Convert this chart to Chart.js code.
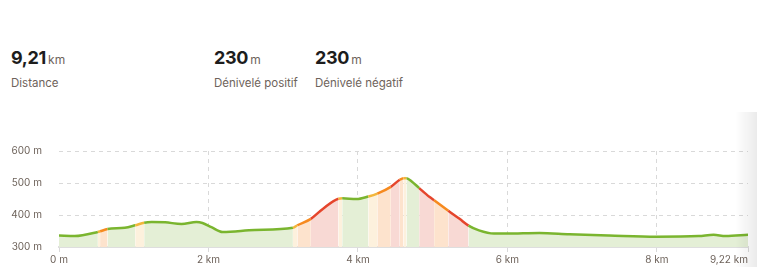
<!DOCTYPE html>
<html>
<head>
<meta charset="utf-8">
<script src="https://cdn.jsdelivr.net/npm/chart.js@4.4.1/dist/chart.umd.min.js"></script>
<style>
  html, body { margin: 0; padding: 0; background: #fff; width: 757px; height: 267px; overflow: hidden; font-family: "Inter", "Lato", sans-serif; }
  .stat { position: absolute; top: 47px; }
  .stat .num { font-size: 18px; font-weight: 700; color: #1d1d1d; letter-spacing: -0.3px; }
  .stat .unit { font-size: 12px; color: #6e635b; margin-left: 2px; }
  .stat .lbl { font-size: 11.5px; color: #6e635b; margin-top: 8px; }
  #wrap { position: absolute; left: 0; top: 128px; width: 757px; height: 142px; }
  #shadow { position: absolute; right: 0; top: 112px; width: 22px; height: 155px;
    background: linear-gradient(to right, rgba(0,0,0,0), rgba(0,0,0,0.08)); }
</style>
</head>
<body>
<div class="stat" style="left:11px"><span class="num">9,21</span><span class="unit">km</span><div class="lbl">Distance</div></div>
<div class="stat" style="left:214px"><span class="num">230</span><span class="unit">m</span><div class="lbl">Dénivelé positif</div></div>
<div class="stat" style="left:315px"><span class="num">230</span><span class="unit">m</span><div class="lbl">Dénivelé négatif</div></div>
<div id="wrap"><canvas id="mychart"></canvas></div>
<div id="shadow"></div>
<script>
// distance (km), elevation (m), slope class of the segment starting at each point
const distances = [0, 0.21, 0.52, 0.55, 0.65, 0.88, 1.02, 1.14, 1.24, 1.42, 1.64, 1.84, 1.92, 2.04, 2.19, 2.62,
  3.13, 3.19, 3.37, 3.53, 3.74, 3.79, 3.98, 4.14, 4.26, 4.44, 4.56, 4.61, 4.65, 4.72, 4.82, 4.96, 5.02, 5.21,
  5.36, 5.48, 5.62, 5.82, 5.99, 6.43, 6.83, 7.36, 7.99, 8.56, 8.76, 8.92, 9.22];
const elevations = [336, 334, 347, 349, 356, 360, 368, 376, 378, 377, 372, 378, 375, 362, 347, 353,
  360, 368, 388, 419, 451, 452, 450, 458, 467, 488, 510, 515, 515, 505, 484, 456, 446, 413,
  388, 367, 352, 342, 342, 344, 340, 336, 332, 334, 338, 334, 338];
const slopes = ['g','g','y','o','g','g','y','g','g','g','g','g','g','g','g','g',
  'y','o','r','r','y','g','g','y','o','r','o','y','g','g','r','r','o','r',
  'r','g','g','g','g','g','g','g','g','g','g','g','g'];

const xTicks = [0, 2, 4, 6, 8, 9.22];
const xTickLabels = ['0 m', '2 km', '4 km', '6 km', '8 km', '9,22 km'];
const yTicks = [300, 400, 500, 600];
const yTickLabels = ['300 m', '400 m', '500 m', '600 m'];

const lineColors = { g: '#7ab52f', y: '#f2b63c', o: '#f68a1f', r: '#e5452c' };
const fillColors = { g: '#e4efd6', y: '#fdf1dd', o: '#fde3cd', r: '#f8d9d4' };

const points = distances.map((d, i) => ({ x: d, y: elevations[i] }));
const textColor = '#6e635b';
const gridColor = '#d9d9d9';
const axisFont = { size: 10, family: 'Inter, Lato, sans-serif' };

// last x label is right-aligned on the axis end
const lastLabel = {
  id: 'lastLabel',
  afterDraw(chart) {
    const xs = chart.scales.x;
    const ctx = chart.ctx;
    ctx.save();
    ctx.font = '10px Inter, Lato, sans-serif';
    ctx.fillStyle = textColor;
    ctx.textAlign = 'right';
    ctx.textBaseline = 'middle';
    ctx.fillText(xTickLabels[xTickLabels.length - 1], xs.getPixelForValue(xTicks[xTicks.length - 1]), xs.top + 5 + 2 + 6);
    ctx.restore();
  }
};

var ctx = document.getElementById('mychart').getContext('2d');
var myChart = new Chart(ctx, {
  type: 'line',
  data: {
    datasets: [{
      data: points,
      fill: 'start',
      borderWidth: 2.5,
      pointRadius: 0,
      cubicInterpolationMode: 'monotone',
      borderColor: lineColors.g,
      backgroundColor: fillColors.g,
      segment: {
        borderColor: c => lineColors[slopes[c.p0DataIndex]],
        backgroundColor: c => fillColors[slopes[c.p0DataIndex]]
      }
    }]
  },
  options: {
    responsive: true,
    maintainAspectRatio: false,
    animation: false,
    layout: { padding: { left: 0, right: 9, top: 0, bottom: 0 } },
    plugins: { legend: { display: false }, tooltip: { enabled: false } },
    scales: {
      x: {
        type: 'linear',
        min: 0,
        max: 9.22,
        afterBuildTicks: s => { s.ticks = xTicks.map(v => ({ value: v })); },
        ticks: {
          autoSkip: false,
          maxRotation: 0,
          padding: 2,
          color: textColor,
          font: axisFont,
          callback: (v, i) => i === xTicks.length - 1 ? '' : xTickLabels[i]
        },
        grid: {
          color: c => (c.tick && (c.tick.value === 0 || c.tick.value === 9.22)) ? 'rgba(0,0,0,0)' : gridColor,
          tickColor: gridColor,
          tickLength: 5,
          lineWidth: 1
        },
        border: { display: true, color: '#dedede', width: 2, dash: [4, 4] }
      },
      y: {
        min: 300,
        max: 600,
        afterBuildTicks: s => { s.ticks = yTicks.map(v => ({ value: v })); },
        afterFit: s => { s.width = 59; },
        ticks: {
          padding: 17,
          color: textColor,
          font: axisFont,
          callback: (v, i) => yTickLabels[i]
        },
        grid: {
          color: c => (c.tick && c.tick.value === 300) ? 'rgba(0,0,0,0)' : gridColor,
          drawTicks: false,
          lineWidth: 1
        },
        border: { display: false, dash: [4, 4] }
      }
    }
  },
  plugins: [lastLabel]
});
</script>
</body>
</html>
